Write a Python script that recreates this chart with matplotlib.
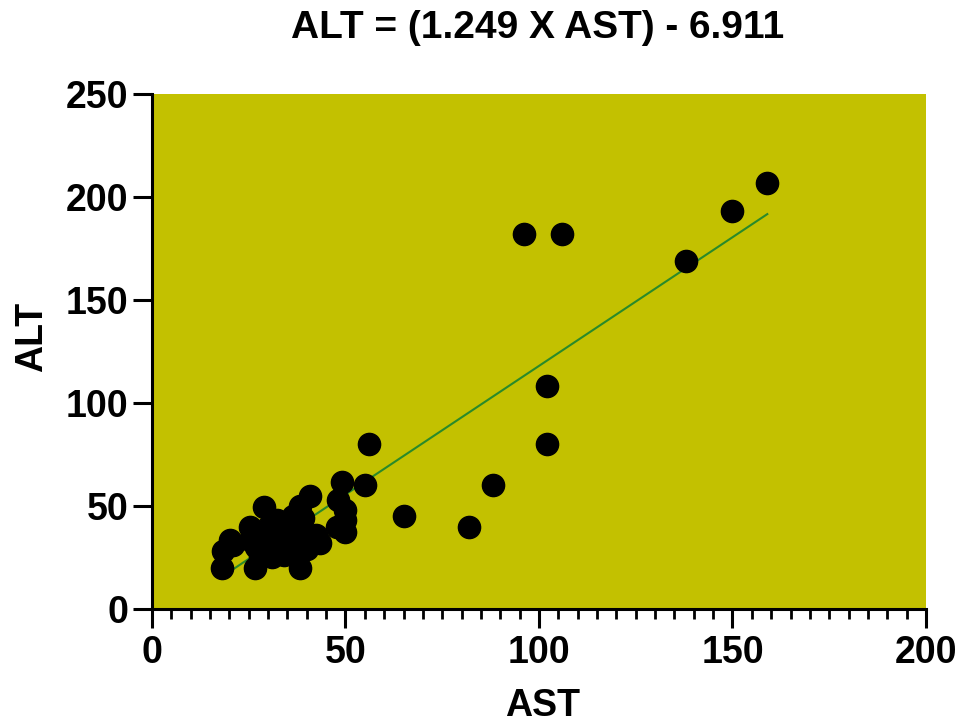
import matplotlib
matplotlib.use("Agg")
import matplotlib.pyplot as plt
import numpy as np
from matplotlib.ticker import MultipleLocator

plt.rcParams['font.family'] = ['Liberation Sans', 'DejaVu Sans']

ast = [159, 150, 138, 96, 106, 102, 102, 88, 82, 65, 56, 55, 49, 48, 50, 50, 50, 47.7,
       18, 18.4, 21, 20.2, 29, 25.3, 26.6, 38.2, 40.8, 38.2, 34, 29, 28, 32.2, 36.5,
       41.7, 42.5, 38.2, 36.5, 32.2, 25.3, 30.5, 43.4,
       30, 34, 36, 27, 31, 34, 37, 40, 39, 33]
alt = [207, 193, 169, 182, 182, 108, 80, 60, 40, 45, 80, 60, 61.5, 53, 48, 43, 37.5, 40,
       20, 28, 31, 33.5, 49.5, 40, 20, 20, 55, 50, 41, 33, 25.4, 28.6, 30,
       32, 36, 38.3, 45, 43, 33.5, 37, 32,
       40, 36, 38, 30, 25, 26, 27, 29, 44, 37]

slope = 1.249
intercept = -6.911
title = "ALT = (1.249 X AST) - 6.911"

fig = plt.figure(figsize=(9.7, 7.24), dpi=100)
ax = fig.add_axes([0.1567, 0.1589, 0.9546 - 0.1567, 0.8702 - 0.1589])
ax.set_facecolor('#C3C100')

xs = np.array([min(ast), max(ast)])
ax.plot(xs, slope * xs + intercept, color='#2a8a2a', lw=1.5, zorder=2)
ax.plot(ast, alt, 'o', color='black', markersize=16, zorder=3, clip_on=False)

ax.set_xlim(0, 200)
ax.set_ylim(0, 250)
ax.xaxis.set_major_locator(MultipleLocator(50))
ax.xaxis.set_minor_locator(MultipleLocator(5))
ax.yaxis.set_major_locator(MultipleLocator(50))

for s in ['top', 'right']:
    ax.spines[s].set_visible(False)
for s in ['left', 'bottom']:
    ax.spines[s].set_linewidth(2.2)

ax.tick_params(axis='both', which='major', width=2.2, length=14, labelsize=27)
ax.tick_params(axis='x', which='major', pad=5)
ax.tick_params(axis='y', which='major', pad=3)
ax.tick_params(axis='x', which='minor', width=2.0, length=7.5)
for lab in ax.get_xticklabels() + ax.get_yticklabels():
    lab.set_fontweight('bold')

ax.set_xlabel('AST', fontsize=27, fontweight='bold')
ax.set_ylabel('ALT', fontsize=27, fontweight='bold')
ax.xaxis.set_label_coords(0.505, -0.153)
ax.yaxis.set_label_coords(-0.132, 0.528)
fig.text(0.5546, 0.961, title, fontsize=28, fontweight='bold', ha='center', va='center')

fig.savefig('out.png', dpi=100)
